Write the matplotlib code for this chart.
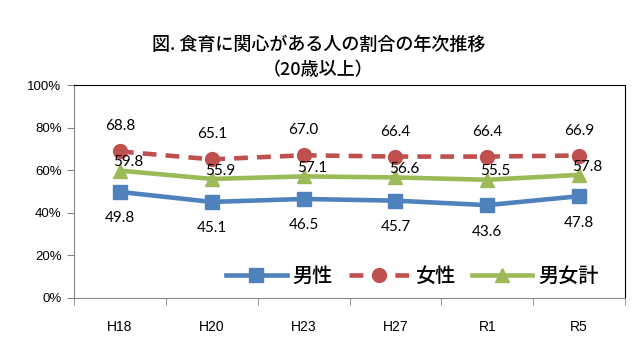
import matplotlib
matplotlib.use('Agg')
import matplotlib.pyplot as plt
import numpy as np

plt.rcParams['font.family'] = ['Noto Sans CJK JP', 'DejaVu Sans']

years = ['H18', 'H20', 'H23', 'H27', 'R1', 'R5']
male = [49.8, 45.1, 46.5, 45.7, 43.6, 47.8]
female = [68.8, 65.1, 67.0, 66.4, 66.4, 66.9]
total = [59.8, 55.9, 57.1, 56.6, 55.5, 57.8]

c_male = '#4F81BD'
c_female = '#C0504D'
c_total = '#9BBB59'

fig = plt.figure(figsize=(6.37, 3.53), dpi=100)
ax = fig.add_axes([74/637, 1 - 298/353, (625-74)/637, (298-85)/353])

x = np.arange(len(years))
ax.plot(x, male, color=c_male, lw=3.3, marker='s', ms=10, label='男性')
ax.plot(x, female, color=c_female, lw=3.3, ls=(0, (3, 2)), marker='o', ms=10, label='女性')
ax.plot(x, total, color=c_total, lw=3.3, marker='^', ms=10, label='男女計')

for i in x:
    ax.annotate(f'{female[i]:.1f}', (i, female[i]), xytext=(0, 18), textcoords='offset points',
                ha='center', va='center', fontsize=11, family='Lato')
    ax.annotate(f'{total[i]:.1f}', (i, total[i]), xytext=(6, 6), textcoords='offset points',
                ha='center', va='center', fontsize=11, family='Lato')
    ax.annotate(f'{male[i]:.1f}', (i, male[i]), xytext=(0, -19), textcoords='offset points',
                ha='center', va='center', fontsize=11, family='Lato')

ax.set_xlim(-0.5, len(years) - 0.5)
ax.set_ylim(0, 100)
ax.set_yticks(range(0, 101, 20))
ax.set_yticklabels([f'{v}%' for v in range(0, 101, 20)], fontsize=9.5, family='Liberation Sans')
ax.set_xticks(x)
ax.set_xticklabels(years, fontsize=10, family='Liberation Sans')
ax.set_xticks(np.arange(-0.5, len(years), 1), minor=True)
ax.tick_params(axis='x', which='major', length=0, pad=16)
ax.tick_params(axis='x', which='minor', length=5, color='#868686', direction='out')
ax.tick_params(axis='y', length=5, color='#868686', direction='out', pad=4)

for s in ['left', 'bottom']:
    ax.spines[s].set_color('#868686')
for s in ['top', 'right']:
    ax.spines[s].set_color('black')

ax.legend(loc='lower right', bbox_to_anchor=(0.985, -0.03), ncol=3, frameon=False,
          prop={'size': 14.5, 'weight': 'medium'}, handlelength=3.0, handletextpad=0.3, columnspacing=0.8)

fig.text(0.5, 1 - 45/353, '図. 食育に関心がある人の割合の年次推移', ha='center', va='center',
         fontsize=13, fontweight='medium')
fig.text(0.5, 1 - 70/353, '（20歳以上）', ha='center', va='center', fontsize=13, fontweight='medium')

plt.savefig('out.png', dpi=100)
